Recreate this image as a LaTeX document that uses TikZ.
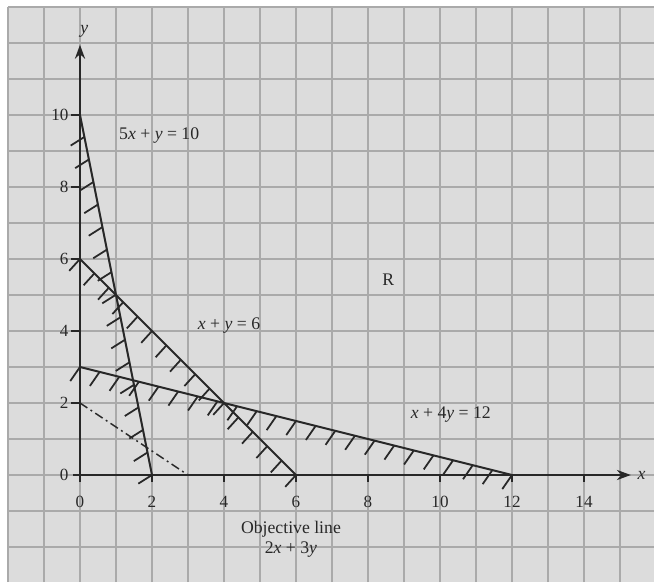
\documentclass[tikz,border=0pt]{standalone}
\usepackage{fontspec}
\setmainfont{Liberation Serif}
\usetikzlibrary{arrows.meta}
\definecolor{ink}{RGB}{40,40,40}
\definecolor{bggray}{RGB}{220,220,220}
\definecolor{gridgray}{RGB}{170,170,170}
\begin{document}
\begin{tikzpicture}[x=1cm,y=1cm,
  font=\fontsize{14}{16}\selectfont,
  gridline/.style={draw=gridgray, line width=1.2pt},
  curve/.style={draw=ink, line width=1.6pt},
  hatch/.style={draw=ink, line width=1.4pt},
  objline/.style={draw=ink, line width=1.2pt, dash pattern=on 7pt off 3pt on 1.5pt off 3pt},
  axis/.style={draw=ink, line width=1.8pt, -{Stealth[length=11pt,width=8pt]}},
  axtick/.style={draw=ink, line width=1.2pt},
  lbl/.style={text=ink, inner sep=1pt},
  num/.style={text=ink, inner sep=1pt, font=\fontsize{13.5}{15}\selectfont}]
\useasboundingbox (-2.222,-2.972) rectangle (15.944,13.194);
\fill[bggray] (-2,-2.972) rectangle (15.944,13);
\foreach \i in {-2,...,15} \draw[gridline] (\i,-2.972) -- (\i,13);
\foreach \j in {-2,...,13} \draw[gridline] (-2,\j) -- (15.944,\j);

% axes
\coordinate (xs) at (-0.2,0);
\coordinate (xe) at (15.3,0);
\coordinate (ys) at (0,-0.2);
\coordinate (ye) at (0,11.95);
\draw[axis] (xs) -- (xe);
\draw[axis] (ys) -- (ye);
\node[lbl] (xl) at (15.6,-0.02) {\textit{x}};
\node[lbl] (yl) at (0.12,12.32) {\textit{y}};

\foreach \v in {2,4,...,14} {
  \coordinate (xt\v) at (\v,0);
  \draw[axtick] (xt\v) -- ++(0,-0.2);
}
\foreach \v in {0,2,...,14} \node[num] (xn\v) at (\v,-0.75) {\v};
\foreach \v in {2,4,...,10} {
  \coordinate (yt\v) at (0,\v);
  \draw[axtick] (yt\v) -- ++(-0.25,0);
}
\foreach \v in {0,2,...,10} \node[num, anchor=east] (yn\v) at (-0.28,\v) {\v};

% constraint lines
\coordinate (A1) at (0,10); \coordinate (A2) at (2,0);
\coordinate (B1) at (0,6);  \coordinate (B2) at (6,0);
\coordinate (C1) at (0,3);  \coordinate (C2) at (12,0);
\coordinate (O1) at (0,2);  \coordinate (O2) at (3,0);
\draw[curve] (A1) -- (A2);
\draw[curve] (B1) -- (B2);
\draw[curve] (C1) -- (C2);
\draw[objline] (O1) -- (O2);

% hatching
\foreach \k in {0,...,15} {
  \pgfmathsetmacro\yy{\k*0.626}
  \draw[hatch] ({2-\yy/5},\yy) -- ++(-0.38,-0.24);
}
\foreach \k in {0,...,15} {
  \pgfmathsetmacro\xx{\k*0.4}
  \draw[hatch] (\xx,{6-\xx}) -- ++(-0.3,-0.33);
}
\foreach \k in {0,...,22} {
  \pgfmathsetmacro\xx{\k*12/22}
  \draw[hatch] (\xx,{3-\xx/4}) -- ++(-0.27,-0.39);
}

% labels
\node[lbl] (la) at (2.2,9.42) {5\textit{x} + \textit{y} = 10};
\node[lbl] (lb) at (4.14,4.14) {\textit{x} + \textit{y} = 6};
\node[lbl] (lr) at (8.56,5.42) {R};
\node[lbl] (lc) at (10.3,1.69) {\textit{x} + 4\textit{y} = 12};
\node[lbl] (lo) at (5.86,-1.5) {Objective line};
\node[lbl] (lf) at (5.86,-2.08) {2\textit{x} + 3\textit{y}};
\end{tikzpicture}
\end{document}
